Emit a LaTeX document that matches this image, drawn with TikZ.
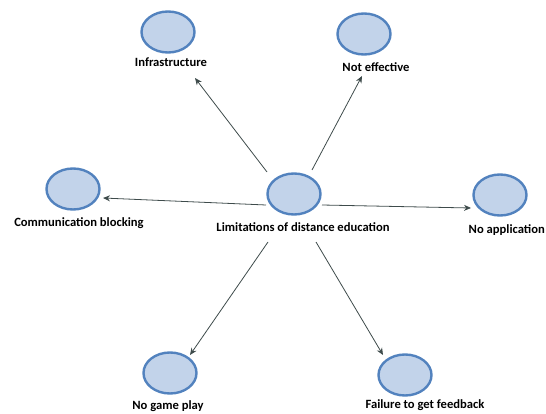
\documentclass[tikz,border=0pt]{standalone}
\usepackage{fontspec}
\setmainfont{Carlito}
\usetikzlibrary{arrows.meta}
\usetikzlibrary{shapes.geometric}
\definecolor{ellfill}{HTML}{C2D3EA}
\definecolor{elldraw}{HTML}{5282BE}
\definecolor{arr}{HTML}{3E4B4B}
\tikzset{
  bub/.style={ellipse, draw=elldraw, fill=ellfill, line width=2.4pt, minimum width=53pt, minimum height=41pt, inner sep=0pt},
  lab/.style={font=\bfseries\fontsize{12.6}{14}\selectfont, text=black, inner sep=0pt},
  con/.style={draw=arr, line width=0.8pt, -{Stealth[length=7pt,width=6pt]}}
}
\begin{document}
\begin{tikzpicture}[x=1pt,y=-1pt]
\useasboundingbox (0,0) rectangle (546,414);
\clip (0,0) rectangle (546,414);
% nodes
\node[bub] (c) at (294,194) {};
\node[lab] (cl) at (303,227) {Limitations of distance education};
\node[bub] (inf) at (168,32) {};
\node[lab] (infl) at (171,62) {Infrastructure};
\node[bub] (ne) at (364,34) {};
\node[lab] (nel) at (376,67) {Not effective};
\node[bub] (cb) at (73,189) {};
\node[lab] (cbl) at (79,223) {Communication blocking};
\node[bub] (na) at (500,195) {};
\node[lab, anchor=east] (nal) at (545,230) {No application};
\node[bub] (ng) at (170,373) {};
\node[lab] (ngl) at (168,406) {No game play};
\node[bub] (fb) at (405,375) {};
\node[lab] (fbl) at (425,405.5) {Failure to get feedback};
% connector end points
\coordinate (s1) at (267,172);
\coordinate (e1) at (195,78);
\coordinate (s2) at (312,170);
\coordinate (e2) at (362,76);
\coordinate (s3) at (266,205);
\coordinate (e3) at (103,198);
\coordinate (s4) at (322,205);
\coordinate (e4) at (471,208);
\coordinate (s5) at (268,242);
\coordinate (e5) at (190,355);
\coordinate (s6) at (316,242);
\coordinate (e6) at (383,355);
\draw[con] (s1) -- (e1);
\draw[con] (s2) -- (e2);
\draw[con] (s3) -- (e3);
\draw[con] (s4) -- (e4);
\draw[con] (s5) -- (e5);
\draw[con] (s6) -- (e6);
\end{tikzpicture}
\end{document}
